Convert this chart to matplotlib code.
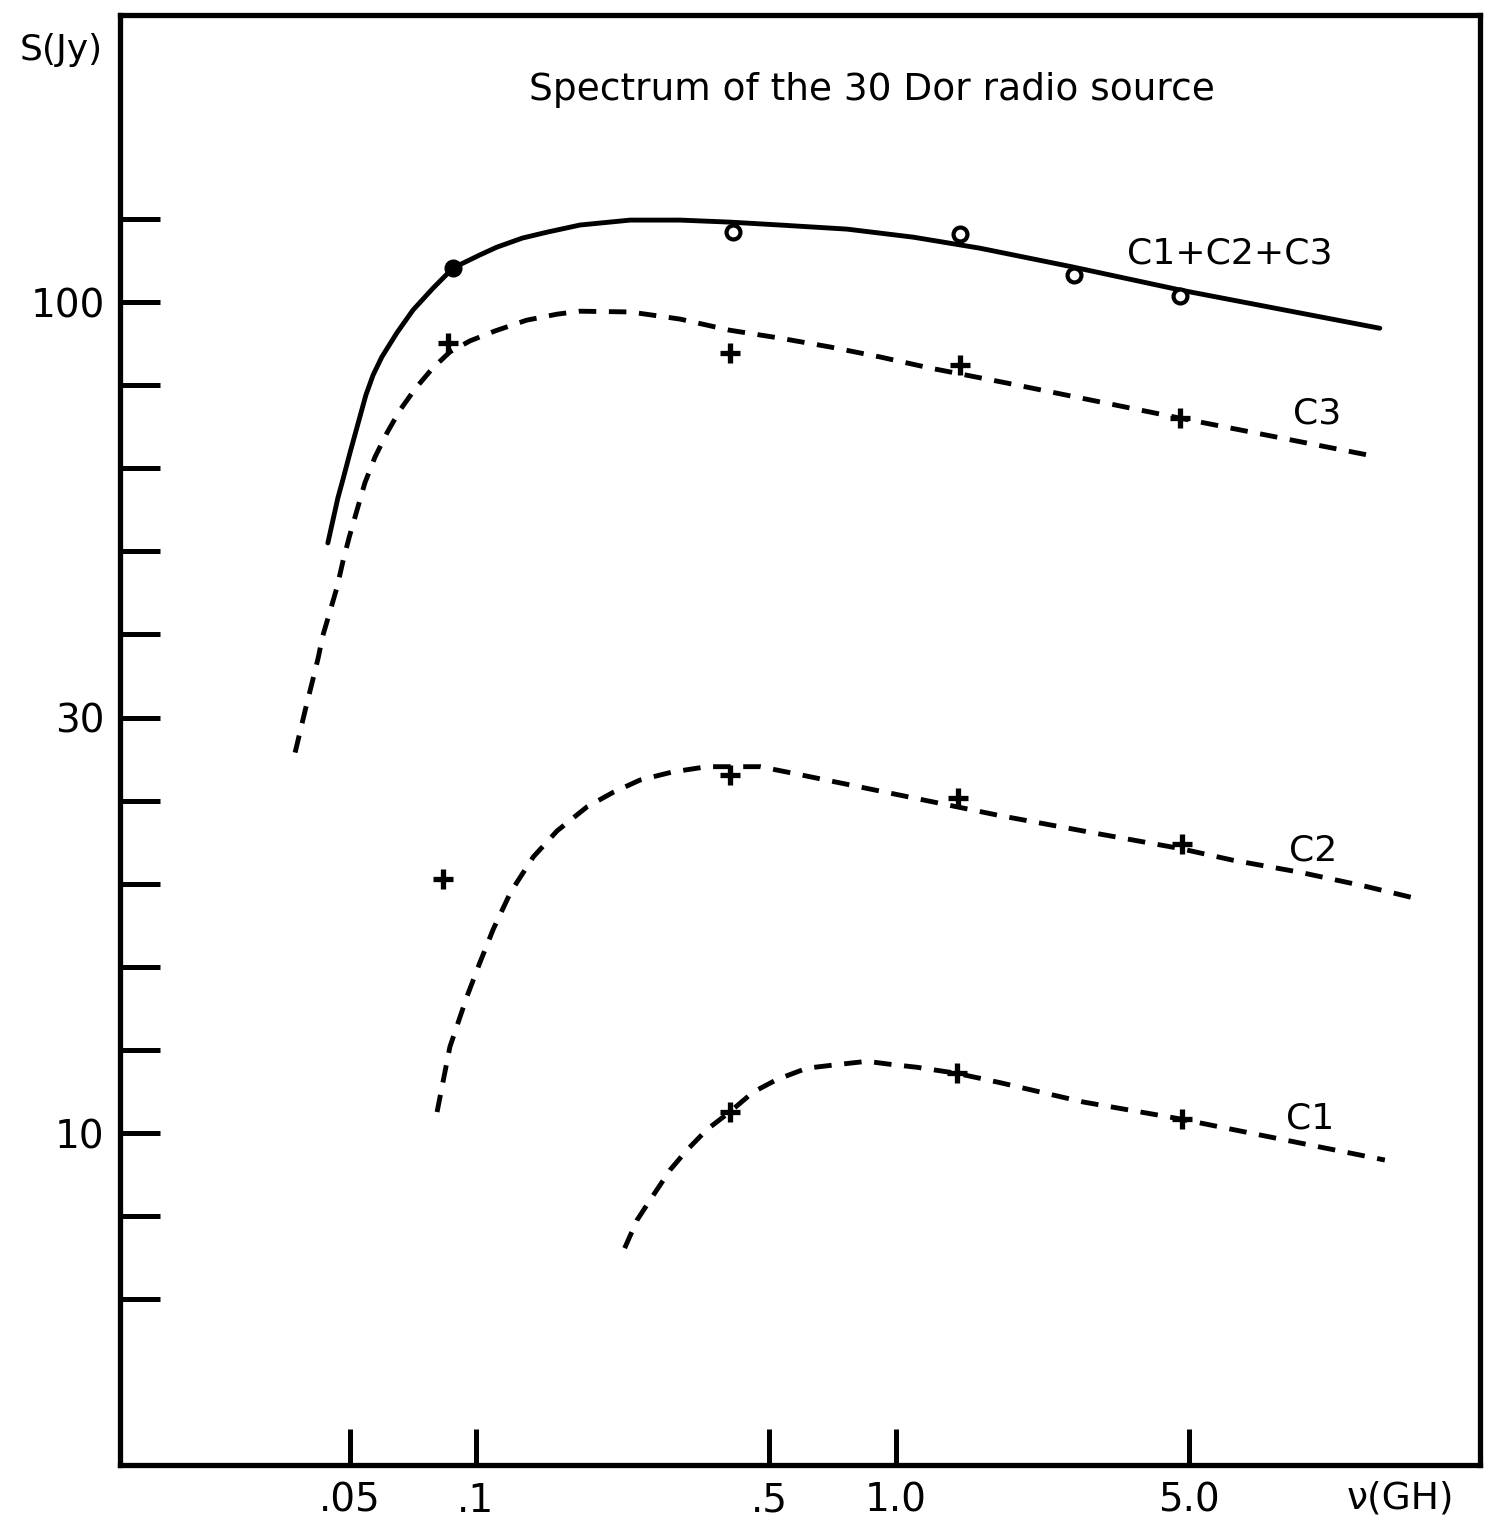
# spectrum of the 30 Dor radio source (log-log, hand-drawn style figure)

import matplotlib
matplotlib.use("Agg")
import matplotlib.pyplot as plt
from matplotlib.ticker import FixedLocator, FixedFormatter, NullLocator

# ---- fitted curves (GHz, Jy) ----
tot_f = [0.0444, 0.0469, 0.0482, 0.0501, 0.0529, 0.0547, 0.0569, 0.0597, 0.0648,
         0.0708, 0.0790, 0.0882, 0.102, 0.112, 0.129, 0.148, 0.177,
         0.233, 0.306, 0.402, 0.529, 0.765, 1.10, 1.585, 2.64, 4.75, 14.2]
tot_S = [51.3, 58.1, 61.1, 65.8, 72.7, 77.3, 81.7, 85.9, 91.8,
         97.8, 103.9, 109.9, 113.9, 116.4, 119.4, 121.4, 123.8,
         125.5, 125.5, 124.8, 123.8, 122.4, 119.7, 116.1, 110.2, 103.4, 93.0]

c3_f = [0.0371, 0.0383, 0.0394, 0.0407, 0.0421, 0.0432, 0.0449, 0.0467, 0.0482,
        0.0499, 0.0521, 0.0544, 0.0575, 0.0614, 0.0659, 0.0716, 0.0786, 0.0867,
        0.0968, 0.111, 0.132, 0.156, 0.177, 0.233, 0.306, 0.402, 0.529, 0.697,
        0.916, 1.205, 1.838, 4.75, 14.05]
c3_S = [28.7, 30.7, 32.6, 34.8, 37.3, 39.7, 42.4, 45.4, 48.7,
        52.1, 56.2, 60.6, 65.1, 69.6, 74.1, 78.6, 83.1, 87.1,
        89.8, 92.3, 95.1, 96.7, 97.5, 97.3, 95.4, 92.5, 90.5, 88.3,
        85.9, 83.3, 79.9, 72.5, 65.1]

c2_f = [0.0808, 0.0867, 0.0952, 0.102, 0.110, 0.121, 0.137, 0.156, 0.184,
        0.212, 0.246, 0.294, 0.355, 0.409, 0.475, 0.569, 1.769, 3.06, 4.75,
        6.34, 9.16, 13.2, 17.0]
c2_S = [10.6, 12.7, 14.6, 16.0, 17.6, 19.5, 21.5, 23.1, 24.7,
        25.7, 26.6, 27.2, 27.6, 27.6, 27.6, 27.1, 24.1, 22.9, 22.0,
        21.3, 20.6, 19.8, 19.2]

c1_f = [0.226, 0.242, 0.260, 0.290, 0.318, 0.355, 0.402, 0.457, 0.521, 0.614,
        0.736, 0.853, 0.968, 1.122, 1.397, 1.769, 2.79, 4.75, 14.6]
c1_S = [7.27, 7.86, 8.31, 9.03, 9.54, 10.1, 10.6, 11.2, 11.6, 11.97,
        12.1, 12.2, 12.1, 12.0, 11.8, 11.5, 10.9, 10.4, 9.28]

# ---- measured points ----
filled_f = [0.088]
filled_S = [109.9]
open_f = [0.409, 1.42, 2.65, 4.75]
open_S = [121.4, 120.7, 107.8, 101.7]
c3_pt_f = [0.0858, 0.402, 1.42, 4.75]
c3_pt_S = [89.3, 86.8, 84.0, 72.5]
c2_pt_f = [0.0834, 0.402, 1.405, 4.80]
c2_pt_S = [20.2, 27.0, 25.3, 22.3]
c1_pt_f = [0.402, 1.40, 4.80]
c1_pt_S = [10.6, 11.8, 10.4]

xticks = [0.05, 0.1, 0.5, 1.0, 5.0]
xticklabels = ['.05', '.1', '.5', '1.0', '5.0']
yticks = [10 ** (k / 10) for k in range(8, 22)]
ylabels = {10: '10', 15: '30', 20: '100'}
yticklabels = [ylabels.get(k, '') for k in range(8, 22)]

curve_labels = ['C1+C2+C3', 'C3', 'C2', 'C1']
label_f = [6.24, 10.05, 9.84, 9.68]
label_S = [114.5, 73.5, 21.9, 10.4]

fig = plt.figure(figsize=(14.9, 15.21), dpi=100)
ax = fig.add_axes([0.0805, 0.0368, 0.9128, 0.9533])
ax.set_xscale('log')
ax.set_yscale('log')
ax.set_xlim(0.0142, 24.6)
ax.set_ylim(3.986, 221.5)

lw = 3.5
dash = (0, (3.6, 2.6))
ax.plot(tot_f, tot_S, color='black', lw=lw, solid_capstyle='round',
        solid_joinstyle='round')
for f, S in [(c3_f, c3_S), (c2_f, c2_S), (c1_f, c1_S)]:
    ax.plot(f, S, color='black', lw=lw, linestyle=dash, dash_joinstyle='round')

ax.plot(filled_f, filled_S, 'o', color='black', ms=12)
ax.plot(open_f, open_S, 'o', mfc='white', mec='black', mew=3, ms=10)
for f, S in [(c3_pt_f, c3_pt_S), (c2_pt_f, c2_pt_S), (c1_pt_f, c1_pt_S)]:
    ax.plot(f, S, '+', color='black', mew=3.8, ms=14)

for txt, f, S in zip(curve_labels, label_f, label_S):
    ax.text(f, S, txt, fontsize=26, ha='center', va='center')

# axes styling
for sp in ax.spines.values():
    sp.set_linewidth(3.8)
ax.xaxis.set_major_locator(FixedLocator(xticks))
ax.xaxis.set_major_formatter(FixedFormatter(xticklabels))
ax.xaxis.set_minor_locator(NullLocator())
ax.yaxis.set_major_locator(FixedLocator(yticks))
ax.yaxis.set_major_formatter(FixedFormatter(yticklabels))
ax.yaxis.set_minor_locator(NullLocator())
ax.tick_params(axis='both', direction='in', width=3.6, top=False, right=False,
               labelsize=28)
ax.tick_params(axis='y', length=29, pad=11)
ax.tick_params(axis='x', length=26, pad=12)

fig.text(0.585, 0.941, 'Spectrum of the 30 Dor radio source', fontsize=27,
         ha='center', va='center')
fig.text(0.041, 0.967, 'S(Jy)', fontsize=26, ha='center', va='center')
fig.text(0.940, 0.015, 'ν(GH)', fontsize=27, ha='center', va='center')

fig.savefig('out.png', dpi=100)
